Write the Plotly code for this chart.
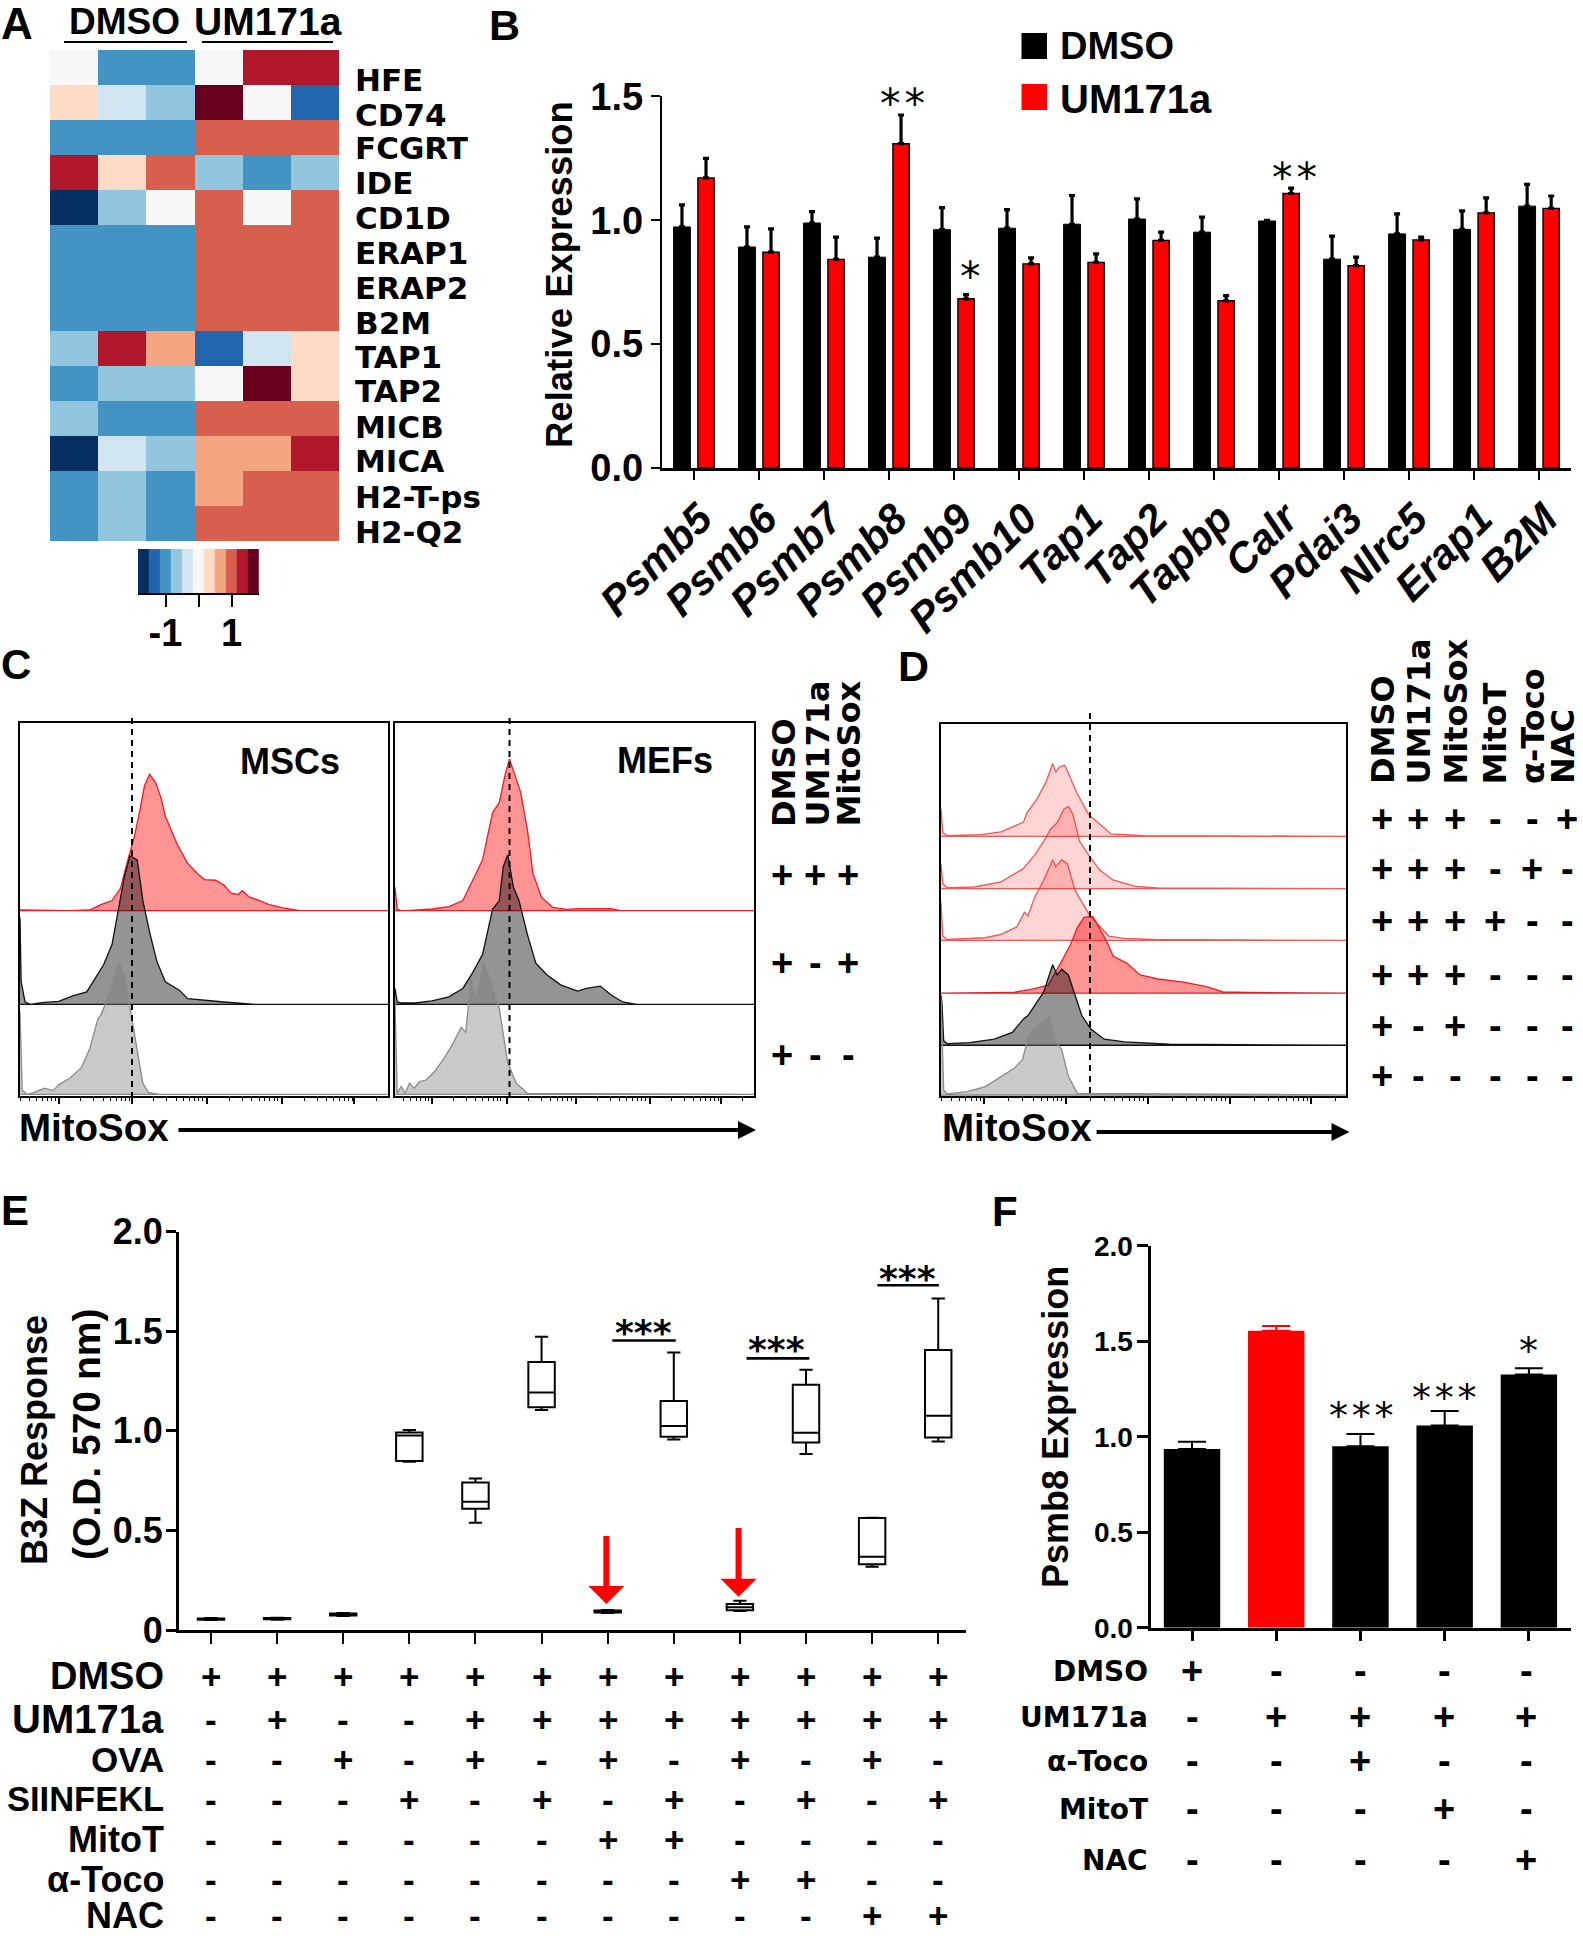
import numpy as np
import plotly.graph_objects as go

W, H = 1583, 1936
SANS = "Liberation Sans"
DEJA = "DejaVu Sans"

# ---------- Panel A ----------
GENES = ["HFE","CD74","FCGRT","IDE","CD1D","ERAP1","ERAP2","B2M","TAP1","TAP2","MICB","MICA","H2-T-ps","H2-Q2"]
GENE_LABEL_Y = [80,114.5,148,183,217.5,252.5,288,323,357,391,427,461,497,532]
HEAT_Z = [
 [0,-1,-1,0,1.33,1.33],
 [.33,-.33,-.67,1.67,0,-1.33],
 [-1,-1,-1,1,1,1],
 [1.33,.33,1,-.67,-1,-.67],
 [-1.67,-.67,0,1,0,1],
 [-1,-1,-1,1,1,1],
 [-1,-1,-1,1,1,1],
 [-1,-1,-1,1,1,1],
 [-.67,1.33,.67,-1.33,-.33,.33],
 [-1,-.67,-.67,0,1.67,.33],
 [-.67,-1,-1,1,1,1],
 [-1.67,-.33,-.67,.67,.67,1.33],
 [-1,-.67,-1,.67,1,1],
 [-1,-.67,-1,1,1,1],
]
KEY_Z = [-1.67,-1.33,-1,-.67,-.33,0,.33,.67,1,1.33,1.67]
RDBU = ["#053061","#2166ac","#4393c3","#92c5de","#d1e5f0","#f7f7f7","#fddbc7","#f4a582","#d6604d","#b2182b","#67001f"]

# ---------- Panel B ----------
B_GENES = ["Psmb5","Psmb6","Psmb7","Psmb8","Psmb9","Psmb10","Tap1","Tap2","Tapbp","Calr","Pdai3","Nlrc5","Erap1","B2M"]
B_DMSO = [.973,.892,.989,.851,.962,.968,.984,1.005,.952,.997,.843,.945,.963,1.057]
B_DMSO_TOP = [1.062,.973,1.035,.928,1.051,1.043,1.10,1.086,1.013,1.0,.936,1.026,1.038,1.145]
B_UM = [1.171,.871,.842,1.309,.683,.824,.83,.919,.675,1.108,.817,.921,1.03,1.048]
B_UM_TOP = [1.25,.965,.932,1.425,.70,.848,.864,.952,.696,1.13,.851,.932,1.09,1.098]

# ---------- Panel C (flow channels / counts) ----------
C1_RED_X = [36,125,160,180,200,215,225,240,250,258,267,278,288,295,305,318,335,352,365,385,400,412,425,432,445,460,480,505,535,692]
C1_RED_H = [2,0,2,18,30,65,130,220,300,370,403,378,330,280,240,190,140,110,92,90,75,52,48,59,40,32,18,8,0,0]
C1_BLK_X = [36,38,45,55,75,105,130,155,170,185,200,212,222,232,245,255,268,280,295,320,335,400,455,692]
C1_BLK_H = [257,67,7,0,5,9,25,37,77,117,177,287,377,439,427,307,207,127,67,42,17,7,0,0]
C1_GRY_X = [36,40,48,60,80,95,105,125,145,160,175,180,190,203,212,222,232,245,255,265,285,692]
C1_GRY_H = [243,13,0,5,18,11,28,48,78,133,223,235,273,343,391,353,253,133,33,5,0,0]
C2_RED_X = [704,708,715,725,770,800,825,840,860,878,890,900,908,918,928,940,950,965,985,1010,1030,1090,1105,1344]
C2_RED_H = [70,5,0,0,5,12,30,80,150,290,320,400,448,400,350,240,110,40,10,4,6,6,0,0]
C2_BLK_X = [704,708,715,740,770,800,825,840,860,878,890,897,905,915,925,940,955,975,1000,1030,1045,1070,1090,1110,1135,1344]
C2_BLK_H = [47,7,4,4,10,22,47,87,147,282,307,407,442,347,307,207,122,87,57,39,47,54,27,7,0,0]
C2_GRY_X = [704,708,715,722,730,738,748,760,775,790,805,822,830,840,848,862,875,890,905,920,940,1344]
C2_GRY_H = [273,3,23,3,33,18,38,43,68,103,143,198,183,343,273,388,333,253,93,33,3,0]
C1_DECADES = [105,235,370,503,632]
C2_DECADES = [770,903,1027,1158,1285]
C_HEAD = ["DMSO","UM171a","MitoSox"]
C_MATRIX = ["+++","+-+","+--"]

# ---------- Panel D ----------
D1_X = [136,140,150,225,270,320,328,350,370,385,392,400,412,425,440,465,490,515,590,1040]
D1_H = [82,10,2,5,13,42,70,110,160,215,190,205,210,170,125,65,35,7,2,0]
D2_X = [136,140,150,210,270,320,345,365,380,395,410,420,430,445,465,490,520,570,620,1040]
D2_H = [73,15,3,5,20,60,100,140,175,195,235,243,220,140,100,55,25,7,2,0]
D3_X = [136,140,150,235,270,305,322,330,345,365,385,392,405,418,435,450,468,510,545,610,1040]
D3_H = [113,13,3,8,18,40,83,73,128,178,238,218,238,226,148,113,73,13,6,3,0]
D4_X = [136,295,340,375,405,425,440,455,475,490,505,520,550,580,620,680,730,765,820,1040]
D4_H = [0,2,12,24,94,144,194,224,226,189,154,109,89,54,42,32,19,4,2,0]
D5_X = [136,138,142,150,200,255,295,320,330,345,365,385,395,405,420,435,450,470,500,545,645,1040]
D5_H = [148,128,13,5,8,18,38,78,88,118,158,238,208,225,208,148,88,48,18,10,3,0]
D6_X = [136,142,150,195,235,265,300,318,330,345,378,390,405,420,440,1040]
D6_H = [290,15,3,10,25,50,80,105,170,197,230,160,135,55,5,0]
D_DECADES = [232,414,597,780,960]
D_HEAD = ["DMSO","UM171a","MitoSox","MitoT","α-Toco","NAC"]
D_MATRIX = ["+++--+","+++-+-","++++--","+++---","+-+---","+-----"]

# ---------- Panel E ----------
E_X = list(range(12))
E_LOW = [.05,.052,.07,.845,.539,1.105,.085,.957,.095,.884,.318,.946]
E_Q1 = [.052,.054,.073,.849,.609,1.118,.088,.971,.099,.941,.33,.966]
E_MED = [.055,.057,.078,.977,.644,1.192,.094,1.024,.114,.991,.368,1.076]
E_Q3 = [.058,.06,.083,.992,.741,1.346,.098,1.15,.13,1.232,.562,1.406]
E_HIGH = [.06,.062,.085,1.004,.761,1.473,.1,1.394,.147,1.307,.564,1.665]
E_ROWS = ["DMSO","UM171a","OVA","SIINFEKL","MitoT","α-Toco","NAC"]
E_ROW_SIZE = [38,40,35,34.5,36,36,36]
E_MATRIX = ["++++++++++++","-+--++++++++","--+-+-+-+-+-","---+-+-+-+-+","------++----","--------++--","----------++"]

# ---------- Panel F ----------
F_X = [0,1,2,3,4]
F_VAL = [.935,1.555,.95,1.058,1.325]
F_TOP = [.974,1.579,1.014,1.135,1.358]
F_ROWS = ["DMSO","UM171a","α-Toco","MitoT","NAC"]
F_MATRIX = ["+----","-++++","--+--","---+-","----+"]


def px(x): return x / W
def py(y): return 1 - y / H

fig = go.Figure()
ann, shp = [], []

def txt(x, y, s, size=36, family=SANS, weight="bold", xa="center", ya="middle", angle=0, xref="paper", yref="paper", color="black"):
    ann.append(dict(x=px(x) if xref == "paper" else x, y=py(y) if yref == "paper" else y,
                    xref=xref, yref=yref, text=s, showarrow=False, xanchor=xa, yanchor=ya, textangle=angle,
                    font=dict(family=family, size=size, weight=weight, color=color), borderpad=0))

def line(x0, y0, x1, y1, w=2, color="black", dash="solid"):
    shp.append(dict(type="line", xref="paper", yref="paper", x0=px(x0), y0=py(y0), x1=px(x1), y1=py(y1),
                    line=dict(color=color, width=w, dash=dash)))

def axes(n, x0, x1, y0, y1, xkw, ykw):
    suffix = "" if n == 1 else str(n)
    base = dict(showgrid=False, zeroline=False)
    fig.update_layout(**{
        f"xaxis{suffix}": dict(domain=[px(x0), px(x1)], anchor=f"y{suffix}", **base, **xkw),
        f"yaxis{suffix}": dict(domain=[py(y1), py(y0)], anchor=f"x{suffix}", **base, **ykw),
    })

def hist(n, x, h, base, lc, fc, lw=1.3):
    s = "" if n == 1 else str(n)
    xs = list(x) + [x[-1], x[0]]
    ys = [base + v for v in h] + [base, base]
    fig.add_trace(go.Scatter(x=xs, y=ys, mode="lines", fill="toself", fillcolor=fc,
                             line=dict(color=lc, width=lw), hoverinfo="skip", showlegend=False,
                             xaxis=f"x{s}", yaxis=f"y{s}"))

def flow_ticks(decades):
    step = (decades[-1] - decades[0]) / (len(decades) - 1)
    out = []
    for d in [decades[0] - step] + decades:
        out += [d + step * np.log10(k) for k in range(2, 10)]
    return out

def flow_axes(n, x0, x1, y0, y1, xr, yr, decades):
    box = dict(showline=True, linecolor="black", linewidth=1.6, mirror=True)
    axes(n, x0, x1, y0, y1,
         dict(range=xr, tickmode="array", tickvals=decades, showticklabels=False, ticks="outside",
              ticklen=6, tickwidth=1.6, tickcolor="black",
              minor=dict(tickmode="array", tickvals=flow_ticks(decades), ticks="outside", ticklen=3,
                         tickwidth=1, tickcolor="black"), **box),
         dict(range=yr, showticklabels=False, ticks="", **box))

def arrow(x0, x1, y):
    line(x0, y, x1 - 16, y, w=4.2)
    shp.append(dict(type="path", xref="paper", yref="paper", fillcolor="black", line=dict(width=0),
                    path=f"M{px(x1-18)},{py(y-9)} L{px(x1)},{py(y)} L{px(x1-18)},{py(y+9)} Z"))

# ---------- A ----------
scale = []
for i, c in enumerate(RDBU):
    scale += [[i / 11, c], [(i + 1) / 11, c]]
fig.add_trace(go.Heatmap(z=HEAT_Z, zmin=-1.8333, zmax=1.8333, colorscale=scale, showscale=False, hoverinfo="skip"))
axes(1, 50, 339, 50, 541, dict(visible=False), dict(visible=False, autorange="reversed"))
fig.add_trace(go.Heatmap(x=KEY_Z, y=[0], z=[KEY_Z], zmin=-1.8333, zmax=1.8333, colorscale=scale, showscale=False,
                         hoverinfo="skip", xaxis="x8", yaxis="y8"))
axes(8, 138, 259, 549, 593,
     dict(range=[-1.8333, 1.8333], tickmode="array", tickvals=[-1, 0, 1], ticktext=["-1", " ", "1"], ticks="outside",
          ticklen=12, tickwidth=2, tickcolor="black", showline=True, linecolor="black", linewidth=1.5,
          ticklabelstandoff=-6,
          tickfont=dict(family=SANS, size=38, weight="bold", color="black")),
     dict(visible=False))
for g, y in zip(GENES, GENE_LABEL_Y):
    txt(354, y, g, size=31, family=DEJA, xa="left")
txt(124, 21, "DMSO", size=37)
txt(268, 22, "UM171a", size=39, family=SANS)
line(64, 42, 187, 42, w=2.2)
line(202, 42, 333, 42, w=2.2)
txt(0, 24, "A", size=44, xa="left")

# ---------- B ----------
xbar = list(range(14))
fig.add_trace(go.Bar(x=xbar, y=B_DMSO, width=.26, offset=-.315, marker=dict(color="black", line=dict(color="black", width=1)),
    error_y=dict(type="data", symmetric=False, array=[t - v for t, v in zip(B_DMSO_TOP, B_DMSO)], arrayminus=[0] * 14,
                 color="black", thickness=3.2, width=3), showlegend=False, xaxis="x2", yaxis="y2", hoverinfo="skip"))
fig.add_trace(go.Bar(x=xbar, y=B_UM, width=.25, offset=.06, marker=dict(color="#ff0000", line=dict(color="black", width=1.4)),
    error_y=dict(type="data", symmetric=False, array=[t - v for t, v in zip(B_UM_TOP, B_UM)], arrayminus=[0] * 14,
                 color="black", thickness=3.2, width=3), showlegend=False, xaxis="x2", yaxis="y2", hoverinfo="skip"))
axes(2, 662, 1571, 96.4, 468,
     dict(range=[-.492, 13.49], tickmode="array", tickvals=xbar, ticktext=B_GENES, tickangle=-45, ticks="outside",
          ticklen=9, tickwidth=2.4, tickcolor="black", showline=True, linecolor="black", linewidth=3,
          ticklabelstandoff=-3, ticklabelshift=6,
          tickfont=dict(family=SANS, size=42, weight="bold", style="italic", color="black")),
     dict(range=[0, 1.5], tickmode="array", tickvals=[0, .5, 1, 1.5], ticktext=["0.0", "0.5", "1.0", "1.5"], ticks="outside",
          ticklen=9, tickwidth=2.4, tickcolor="black", showline=True, linecolor="black", linewidth=2.4,
          tickfont=dict(family=SANS, size=38, weight="bold", color="black")))
txt(559, 275, "Relative Expression", size=36.5, angle=-90)
for x, y, s in [(3.2, 1.47, "*\u200a*"), (4.246, .771, "*"), (9.23, 1.171, "*\u200a*")]:
    txt(x, y, s, size=41, family=DEJA, weight="normal", xref="x2", yref="y2")
for y0, c, lab, ty in [(33, "black", "DMSO", 46), (84, "#ff0000", "UM171a", 99)]:
    shp.append(dict(type="rect", xref="paper", yref="paper", x0=px(1021.5), x1=px(1047), y0=py(y0), y1=py(y0 + 26),
                    fillcolor=c, line=dict(width=0)))
    txt(1059, ty, lab, size=40 if lab == "UM171a" else 38, xa="left")
txt(488, 25, "B", size=43, xa="left")

# ---------- C ----------
flow_axes(3, 20, 388, 723, 1096, [36, 692], [0, 1103], C1_DECADES)
flow_axes(4, 395, 754, 723, 1096, [704, 1344], [0, 1103], C2_DECADES)
RED_F, BLK_F, GRY_F = "rgba(255,0,0,.42)", "rgba(0,0,0,.42)", "rgba(120,120,120,.4)"
hist(3, C1_RED_X, C1_RED_H, 548, "#ee1c25", RED_F)
hist(3, C1_BLK_X, C1_BLK_H, 271, "#111111", BLK_F)
hist(3, C1_GRY_X, C1_GRY_H, 5, "#8a8a8a", GRY_F)
hist(4, C2_RED_X, C2_RED_H, 548, "#ee1c25", RED_F)
hist(4, C2_BLK_X, C2_BLK_H, 271, "#111111", BLK_F)
hist(4, C2_GRY_X, C2_GRY_H, 5, "#8a8a8a", GRY_F)
line(132, 718, 132, 1096, w=2, dash="6px,5px")
line(509.5, 718, 509.5, 1096, w=2, dash="6px,5px")
txt(290, 761, "MSCs", size=36)
txt(665, 760, "MEFs", size=36)
txt(18, 1127, "MitoSox", size=38.5, xa="left")
arrow(178.5, 756, 1130)
for x, s in zip([784.5, 817.6, 848.5], C_HEAD):
    txt(x, 828, s, size=32, family=DEJA, ya="bottom", angle=-90)
for y, row in zip([875, 963, 1055], C_MATRIX):
    for x, s in zip([782, 815, 848], row):
        txt(x, y, s, size=38)
txt(0, 665, "C", size=42, xa="left")

# ---------- D ----------
flow_axes(5, 941, 1346.4, 724, 1096, [136, 1040], [0, 1100], D_DECADES)
LR_F, LR_L = "rgba(255,0,0,.17)", "rgba(238,60,60,.85)"
hist(5, D1_X, D1_H, 768, LR_L, LR_F)
hist(5, D2_X, D2_H, 613, LR_L, LR_F)
hist(5, D3_X, D3_H, 460, LR_L, LR_F)
hist(5, D4_X, D4_H, 304, "#ee1c25", RED_F)
hist(5, D5_X, D5_H, 150, "#111111", BLK_F)
hist(5, D6_X, D6_H, 3, "#8a8a8a", GRY_F)
line(1090, 713, 1090, 1096, w=2, dash="6px,5px")
txt(941, 1127, "MitoSox", size=38.5, xa="left")
arrow(1096.6, 1349.5, 1132)
for x, s in zip([1383, 1418, 1455, 1494, 1532.5, 1563], D_HEAD):
    txt(x, 785.5, s, size=32, family=DEJA, ya="bottom", angle=-90)
for y, row in zip([819, 869, 921, 975, 1026, 1076], D_MATRIX):
    for x, s in zip([1382, 1418, 1455, 1495, 1532, 1567], row):
        txt(x, y, s, size=38)
txt(897, 665.5, "D", size=43, xa="left")

# ---------- E ----------
fig.add_trace(go.Box(x=E_X, q1=E_Q1, median=E_MED, q3=E_Q3, lowerfence=E_LOW, upperfence=E_HIGH, width=.4, whiskerwidth=.5,
                     line=dict(color="black", width=2), fillcolor="white", boxpoints=False, showlegend=False,
                     hoverinfo="skip", xaxis="x6", yaxis="y6"))
axes(6, 179.4, 966, 1231.7, 1630,
     dict(range=[-.478, 11.42], tickmode="array", tickvals=E_X, showticklabels=False, ticks="outside", ticklen=11,
          tickwidth=2.4, tickcolor="black", showline=True, linecolor="black", linewidth=3),
     dict(range=[0, 2], tickmode="array", tickvals=[0, .5, 1, 1.5, 2], ticktext=["0", "0.5", "1.0", "1.5", "2.0"],
          ticks="outside", ticklen=10.5, tickwidth=3, tickcolor="black", showline=True, linecolor="black", linewidth=3,
          ticklabelstandoff=-4,
          tickfont=dict(family=SANS, size=36, weight="bold", color="black")))
txt(34, 1440, "B3Z Response", size=36, angle=-90)
txt(86, 1435, "(O.D. 570 nm)", size=39, angle=-90)
for x0, x1, yl, xs, ys in [(6.07, 7.03, 1.454, 6.54, 1.494), (8.1, 9.05, 1.364, 8.55, 1.408), (10.08, 11.01, 1.731, 10.54, 1.765)]:
    shp.append(dict(type="line", xref="x6", yref="y6", x0=x0, x1=x1, y0=yl, y1=yl, line=dict(color="black", width=2.6)))
    txt(xs, ys, "***", size=36, family=DEJA, xref="x6", yref="y6")
for x, tail, tip in [(6, .48, .13), (8, .52, .167)]:
    ann.append(dict(xref="x6", yref="y6", axref="x6", ayref="y6", x=x - .02, y=tip, ax=x - .02, ay=tail, text="", showarrow=True,
                    arrowhead=1, arrowsize=1, arrowwidth=6, arrowcolor="#ff0000"))
for y, name, fs, row in zip([1676, 1719, 1759, 1799, 1839, 1879, 1915], E_ROWS, E_ROW_SIZE, E_MATRIX):
    txt(165, y, name, size=fs, xa="right")
    for x, s in zip(E_X, row):
        txt(x, y, s, size=35, xref="x6")
txt(0, 1210, "E", size=42, xa="left")

# ---------- F ----------
black_i = [0, 2, 3, 4]
fig.add_trace(go.Bar(x=[F_X[i] for i in black_i], y=[F_VAL[i] for i in black_i], width=.67, marker=dict(color="black", line=dict(width=0)),
    error_y=dict(type="data", symmetric=False, array=[F_TOP[i] - F_VAL[i] for i in black_i], arrayminus=[0] * 4,
                 color="black", thickness=2, width=14), showlegend=False, xaxis="x7", yaxis="y7", hoverinfo="skip"))
fig.add_trace(go.Bar(x=[F_X[1]], y=[F_VAL[1]], width=.67, marker=dict(color="#ff0000", line=dict(width=0)),
    error_y=dict(type="data", symmetric=False, array=[F_TOP[1] - F_VAL[1]], arrayminus=[0],
                 color="#ff0000", thickness=2, width=14), showlegend=False, xaxis="x7", yaxis="y7", hoverinfo="skip"))
axes(7, 1151, 1571, 1245.7, 1627.7,
     dict(range=[-.487, 4.5], tickmode="array", tickvals=F_X, showticklabels=False, ticks="outside", ticklen=10,
          tickwidth=3, tickcolor="black", showline=True, linecolor="black", linewidth=3),
     dict(range=[0, 2], tickmode="array", tickvals=[0, .5, 1, 1.5, 2], ticktext=["0.0", "0.5", "1.0", "1.5", "2.0"],
          ticks="outside", ticklen=11.5, tickwidth=3, tickcolor="black", showline=True, linecolor="black", linewidth=3,
          ticklabelstandoff=-2,
          tickfont=dict(family=SANS, size=28, weight="bold", color="black")))
txt(1055, 1427, "Psmb8 Expression", size=36, angle=-90)
for x, y, s in [(2.01, 1.108, "*\u200a*\u200a*"), (3, 1.203, "*\u200a*\u200a*"), (4, 1.449, "*")]:
    txt(x, y, s, size=38, family=DEJA, weight="normal", xref="x7", yref="y7")
for y, name, row in zip([1671, 1717, 1761, 1809, 1860], F_ROWS, F_MATRIX):
    txt(1149, y, name, size=28, family=DEJA, xa="right")
    for x, s in zip([1192, 1276, 1360, 1444, 1526], row):
        txt(x, y, s, size=38)
txt(991, 1211, "F", size=42, xa="left")

fig.update_layout(width=W, height=H, autosize=False, margin=dict(l=0, r=0, t=0, b=0, pad=0, autoexpand=False),
                  paper_bgcolor="white", plot_bgcolor="white", barmode="overlay", boxmode="overlay",
                  showlegend=False, annotations=ann, shapes=shp)
fig.write_html("out.html", post_script="document.body.style.margin='0';", config={"displayModeBar": False})
